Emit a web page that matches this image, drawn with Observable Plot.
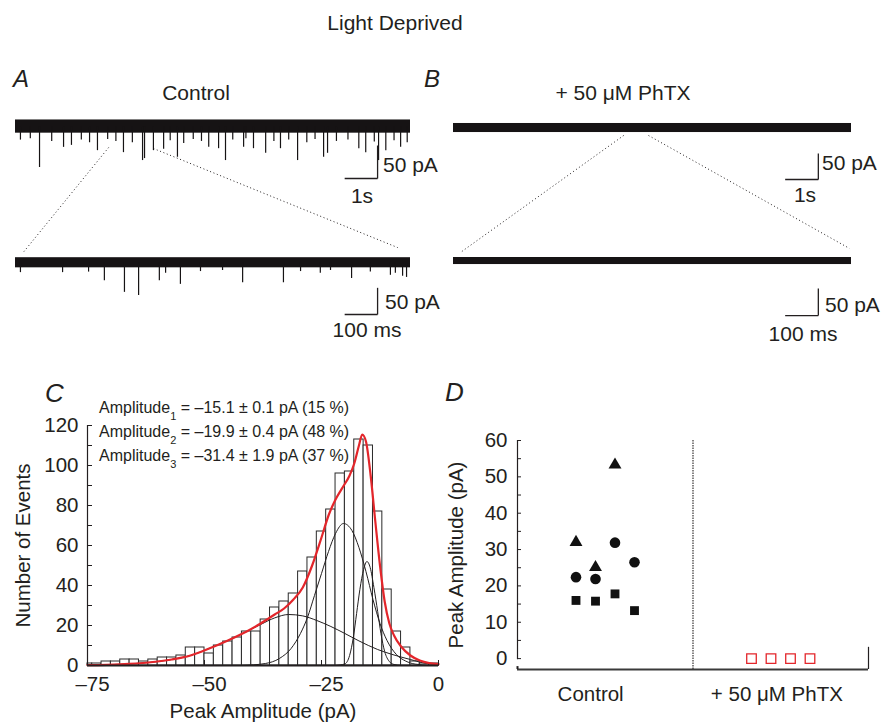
<!DOCTYPE html>
<html><head><meta charset="utf-8">
<script src="https://cdn.jsdelivr.net/npm/d3@7"></script>
<script src="https://cdn.jsdelivr.net/npm/@observablehq/plot@0.6"></script>
<style>
html,body{margin:0;padding:0;background:#fff;}
#fig{position:relative;width:889px;height:722px;overflow:hidden;font-family:"Liberation Sans",Arial,Helvetica,sans-serif;color:#231f20;background:#fff;}
.lbl{position:absolute;white-space:nowrap;line-height:1;}
</style></head>
<body><div id="fig"></div>
<script>
// ---------------- DATA ----------------
// Panel A/B traces: recording lengths
const traceDurationS = 12;          // top traces, seconds
const zoomDurationMs = 1200;        // expanded traces, ms
const scaleBarTimeS = 1, scaleBarTimeMs = 100, scaleBarCurrentPA = 50;
// noise band of each trace [low, high] pA
const noiseATop = [-9.5, 10.5];
const noiseABot = [-10, 9];
const noiseBTop = [-8.7, 8.7];
const noiseBBot = [-6.5, 6.5];
// miniature events in control trace, top: [time s, peak pA]
const spikesATop = [[0.73,-61.5],[1.46,-31],[1.70,-28],[2.49,-36],[3.28,-39],[3.86,-51],[3.92,-48],[4.19,-36],[4.50,-34],[4.92,-46],[5.11,-25],[5.87,-31],[6.17,-33],[6.38,-51],[6.93,-31],[7.23,-33],[7.60,-40],[8.05,-33],[8.57,-51],[9.36,-46],[9.48,-40],[10.43,-33],[10.64,-39],[11.03,-51],[11.25,-36],[11.70,-31],
  [0.15,-20],[0.45,-18],[1.1,-22],[2.0,-20],[2.25,-24],[2.8,-19],[3.05,-22],[3.55,-24],[4.7,-21],[5.4,-19],[5.65,-22],[6.6,-20],[7.0,-18],[7.85,-22],[8.3,-20],[8.85,-24],[9.1,-19],[9.75,-22],[10.1,-20],[10.9,-23],[11.5,-21],[11.9,-24]];
// expanded control trace: [time ms, peak pA]
const spikesABot = [[15,-19],[143,-19],[222,-18],[270,-34],[331,-56],[374,-62],[437,-34],[456,-20],[501,-41],[562,-17],[629,-15],[690,-38],[814,-38],[866,-17],[926,-20],[957,-15],[1021,-30],[1078,-18],[1139,-24],[1154,-20],[1176,-26],[1188,-28]];

// Panel C histogram (2 pA bins)
const histBinStart = [-76,-74,-72,-70,-68,-66,-64,-62,-60,-58,-56,-54,-52,-50,-48,-46,-44,-42,-40,-38,-36,-34,-32,-30,-28,-26,-24,-22,-20,-18,-16,-14,-12,-10,-8,-6,-4,-2];
const histCount    = [1,1,2,2,3,3,2,3,4,4,5,9,9,6,10,12,14,17,17,23,29,32,36,47,54,67,78,96,97,113,110,77,38,17,9,2,1,1];
const histBinWidth = 2;
// fitted curves: [pA, events]
const fitSum = [[-75,0.2],[-68,0.6],[-62,1.5],[-57,3],[-53,5],[-49,8.5],[-45,12.5],[-41,17],[-38,21],[-35,25.5],[-33,28.5],[-31,33],[-29,39],[-27,50],[-25,64],[-23.5,75],[-22,83],[-20.5,89],[-19,95],[-18,101],[-17,110],[-16.3,115.5],[-15.5,112],[-14.5,95],[-13.5,72],[-12.5,50],[-11.5,32],[-10.5,21],[-9.5,15],[-8,9.5],[-6,5],[-4,2.5],[-2,1.2],[0,0.7]];
const fitComp1 = [[-22,0],[-20,0.8],[-19,5],[-18.2,14],[-17.5,26],[-16.8,38],[-16,48],[-15.3,52],[-14.6,49],[-13.8,39],[-13,27],[-12.3,16],[-11.5,7],[-10.5,2],[-9.5,0.5],[-8,0]];
const fitComp2 = [[-42,0],[-37,1],[-34,3.5],[-31.5,8.5],[-29.5,16],[-28,24],[-26.5,35],[-25,46],[-23.5,57],[-22,66],[-20.3,71],[-18.5,67.5],[-17,59],[-15.5,47],[-14,33],[-12.5,21],[-11,12.5],[-9,5.5],[-7,2.2],[-5,0.7],[-2,0.1],[0,0]];
const fitComp3 = [[-75,0.2],[-68,0.6],[-62,1.5],[-57,3],[-53,5],[-49,8.5],[-45,12.5],[-41,17],[-38,20.5],[-35,23.8],[-32,25.5],[-29,24.8],[-26,22.5],[-23,19.5],[-20,16],[-17,12.3],[-13,8],[-10,5.6],[-6,3],[-2.5,1.0],[0,0.5]];
const ampMean = [-15.1, -19.9, -31.4];
const ampSem  = [0.1, 0.4, 1.9];
const ampPct  = [15, 48, 37];
const cTicksY = [0,10,20,30,40,50,60,70,80,90,100,110,120];
const cTicksX = [-75,-50,-25,0];

// Panel D scatter
const categoryNames = ["Control", "+ 50 \u03bcM PhTX"];
const categoryPos   = [3.75, 13.3];
const controlSlot  = [3,4,5, 3,4,5,6, 3,4,5,6];
const controlShape = ["triangle","triangle","triangle","circle","circle","circle","circle","square","square","square","square"];
const controlValue = [32, 25.1, 53.3, 22.4, 21.9, 31.9, 26.5, 16.0, 15.8, 17.8, 13.2];
const phtxSlot  = [12,13,14,15];
const phtxValue = [0,0,0,0];
const dTicksY = [0,5,10,15,20,25,30,35,40,45,50,55,60];

// ---------------- HELPERS ----------------
const FONT = '"Liberation Sans", Arial, Helvetica, sans-serif';
const INK = "#231f20";
const RED = "#e3262b";
const fig = document.getElementById("fig");
const baseStyle = {background: "transparent", fontFamily: FONT, color: INK, overflow: "visible"};

function place(node, left, top) {
  node.style.position = "absolute";
  node.style.left = left + "px";
  node.style.top = top + "px";
  fig.appendChild(node);
}
function label(html, x, baseline, size, opts = {}) {
  const el = document.createElement("div");
  el.className = "lbl";
  el.innerHTML = html;
  el.style.fontSize = size + "px";
  el.style.left = x + "px";
  el.style.top = (baseline - 0.8465 * size) + "px";
  if (opts.italic) el.style.fontStyle = "italic";
  if (opts.anchor === "middle") el.style.transform = "translateX(-50%)";
  fig.appendChild(el);
}
const dash = d => d < 0 ? "\u2013" + (-d) : String(d);

// trace panel builder: views map each trace's own units into panel units
function tracePanel({left, width, mL, mR, yDomain, views, links, bars}) {
  const bands = views.map(v => ({x1: v.tx(0), x2: v.tx(v.dur), y1: v.ty(v.noise[0]), y2: v.ty(v.noise[1])}));
  const spikes = views.flatMap(v => v.spikes.map(([t, p]) => ({x: v.tx(t), y1: v.ty(0), y2: v.ty(p)})));
  const barSegs = bars.flatMap(b => [
    {x1: b.view.tx(b.t), x2: b.view.tx(b.t), y1: b.view.ty(b.p), y2: b.view.ty(b.p - scaleBarCurrentPA)},
    {x1: b.view.tx(b.t - b.len), x2: b.view.tx(b.t), y1: b.view.ty(b.p - scaleBarCurrentPA), y2: b.view.ty(b.p - scaleBarCurrentPA)}
  ]);
  const p = Plot.plot({
    width, height: 250, marginLeft: mL, marginRight: mR, marginTop: 0, marginBottom: 0,
    x: {domain: [0, traceDurationS], axis: null},
    y: {domain: yDomain, axis: null},
    style: baseStyle,
    marks: [
      Plot.link(links, {x1: "x1", y1: "y1", x2: "x2", y2: "y2", stroke: INK, strokeWidth: 1, strokeDasharray: "1,2.6"}),
      Plot.rect(bands, {x1: "x1", x2: "x2", y1: "y1", y2: "y2", fill: "#161314"}),
      Plot.ruleX(spikes, {x: "x", y1: "y1", y2: "y2", stroke: "#161314", strokeWidth: 1.2}),
      Plot.link(barSegs, {x1: "x1", y1: "y1", x2: "x2", y2: "y2", stroke: INK, strokeWidth: 1.3})
    ]
  });
  place(p, left, 100);
}

// ---------------- PANEL A ----------------
{
  const top = {tx: t => t, ty: p => p, dur: traceDurationS, noise: noiseATop, spikes: spikesATop};
  const bot = {tx: ms => ms / 100, ty: p => -205.45 + 0.808 * p, dur: zoomDurationMs, noise: noiseABot, spikes: spikesABot};
  tracePanel({
    left: 0, width: 445, mL: 15, mR: 35, yDomain: [40 - 250 / 0.66, 40],
    views: [top, bot],
    links: [
      {x1: 2.83, y1: -31.2, x2: bot.tx(21), y2: bot.ty(17)},
      {x1: 4.19, y1: -32.7, x2: bot.tx(1161), y2: bot.ty(28)}
    ],
    bars: [
      {view: top, t: 11.0, p: -28.2, len: scaleBarTimeS},
      {view: bot, t: 1100, p: -47.5, len: scaleBarTimeMs}
    ]
  });
}
// ---------------- PANEL B ----------------
{
  const top = {tx: t => t, ty: p => p, dur: traceDurationS, noise: noiseBTop, spikes: []};
  const bot = {tx: ms => ms / 100, ty: p => -255.8 + 1.04 * p, dur: zoomDurationMs, noise: noiseBBot, spikes: []};
  tracePanel({
    left: 445, width: 444, mL: 8, mR: 38, yDomain: [52.9 - 250 / 0.52, 52.9],
    views: [top, bot],
    links: [
      {x1: 5.13, y1: -14.4, x2: bot.tx(21), y2: bot.ty(15.8)},
      {x1: 5.88, y1: -14.4, x2: bot.tx(1194), y2: bot.ty(23.2)}
    ],
    bars: [
      {view: top, t: 11.0, p: -49, len: scaleBarTimeS},
      {view: bot, t: 1100, p: -50.9, len: scaleBarTimeMs}
    ]
  });
}

// ---------------- PANEL C ----------------
{
  const bins = histBinStart.map((s, i) => ({x1: Math.max(s, cTicksX[0]), x2: s + histBinWidth, count: histCount[i]}));
  const toXY = a => a.map(([x, y]) => ({x, y}));
  const p = Plot.plot({
    width: 450, height: 352, marginLeft: 87, marginRight: 12, marginTop: 55, marginBottom: 57,
    x: {domain: [cTicksX[0], 0]},
    y: {domain: [0, 120]},
    style: {...baseStyle, fontSize: "20.5px"},
    marks: [
      Plot.rect(bins, {x1: "x1", x2: "x2", y1: 0, y2: "count", fill: "white", stroke: "#2a2a2a", strokeWidth: 1}),
      Plot.line(toXY(fitComp3), {x: "x", y: "y", curve: "monotone-x", stroke: INK, strokeWidth: 1}),
      Plot.line(toXY(fitComp2), {x: "x", y: "y", curve: "monotone-x", stroke: INK, strokeWidth: 1}),
      Plot.line(toXY(fitComp1), {x: "x", y: "y", curve: "monotone-x", stroke: INK, strokeWidth: 1}),
      Plot.line(toXY(fitSum), {x: "x", y: "y", curve: "monotone-x", stroke: RED, strokeWidth: 2.2}),
      Plot.ruleX([cTicksX[0]], {y1: 0, y2: 120, stroke: INK, strokeWidth: 1.2}),
      Plot.ruleY([0], {stroke: INK, strokeWidth: 2}),
      Plot.axisY({ticks: cTicksY, tickSize: -5, tickPadding: 14, tickFormat: d => d % 20 ? "" : String(d),
        label: "Number of Events", labelAnchor: "center", labelOffset: 72, labelArrow: "none"}),
      // tick marks + axis title
      Plot.axisX({ticks: cTicksX, tickSize: -5, tickFormat: () => "",
        label: "Peak Amplitude (pA)", labelAnchor: "center", labelOffset: 52, labelArrow: "none"}),
      // tick labels (negative labels sit a little right, as in the original)
      Plot.axisX({ticks: cTicksX.filter(d => d < 0), tickSize: 0, tickPadding: 11, dx: 5, tickFormat: dash, label: null}),
      Plot.axisX({ticks: cTicksX.filter(d => d >= 0), tickSize: 0, tickPadding: 11, tickFormat: dash, label: null})
    ]
  });
  place(p, 0, 370);
}

// ---------------- PANEL D ----------------
{
  const control = controlSlot.map((s, i) => ({slot: s, value: controlValue[i], shape: controlShape[i]}));
  const phtx = phtxSlot.map((s, i) => ({slot: s, value: phtxValue[i]}));
  const p = Plot.plot({
    width: 449, height: 352, marginLeft: 77, marginRight: 21, marginTop: 70, marginBottom: 53,
    x: {domain: [0, 18]},
    y: {domain: [-3, 60]},
    style: {...baseStyle, fontSize: "20.5px"},
    marks: [
      Plot.ruleY([-3], {x1: 0, x2: 18, stroke: "#3a3a3a", strokeWidth: 2}),
      Plot.ruleX([0], {y1: -0.3, y2: 60, stroke: INK, strokeWidth: 1.2}),
      Plot.ruleX([0], {y1: -3, y2: -2.2, stroke: INK, strokeWidth: 2}),
      Plot.ruleX([9], {y1: -3, y2: 60, stroke: INK, strokeWidth: 1.1, strokeDasharray: "1.5,1"}),
      Plot.ruleX([18], {y1: -3, y2: 3.1, stroke: INK, strokeWidth: 1.2}),
      Plot.axisY({ticks: dTicksY, tickSize: -4, tickPadding: 14, tickFormat: d => d % 10 ? "" : String(d),
        label: "Peak Amplitude (pA)", labelAnchor: "center", labelOffset: 69, labelArrow: "none"}),
      Plot.axisX({ticks: categoryPos, tickSize: 0, tickPadding: 17, tickFormat: d => categoryNames[categoryPos.indexOf(d)], label: null}),
      Plot.dot(control, {filter: d => d.shape === "triangle", x: "slot", y: "value", symbol: "triangle", r: 4.8, fill: "#111", stroke: "none"}),
      Plot.dot(control, {filter: d => d.shape === "circle", x: "slot", y: "value", symbol: "circle", r: 5.3, fill: "#111", stroke: "none"}),
      Plot.dot(control, {filter: d => d.shape === "square", x: "slot", y: "value", symbol: "square", r: 5, fill: "#111", stroke: "none"}),
      Plot.dot(phtx, {x: "slot", y: "value", symbol: "square", r: 5.4, fill: "white", stroke: RED, strokeWidth: 1.3})
    ]
  });
  place(p, 440, 370);
}

// ---------------- TEXT ----------------
label("Light Deprived", 395, 29.5, 21, {anchor: "middle"});
label("A", 13, 87, 24, {italic: true});
label("B", 424, 87, 24, {italic: true});
label("Control", 196, 100, 21, {anchor: "middle"});
label("+ 50 \u03bcM PhTX", 623, 100, 21, {anchor: "middle"});
label("50 pA", 383, 171.7, 21);
label("1s", 362, 203, 21, {anchor: "middle"});
label("50 pA", 385, 309, 21);
label("100 ms", 367, 336.7, 21, {anchor: "middle"});
label("50 pA", 822, 170, 21);
label("1s", 805, 201.7, 21, {anchor: "middle"});
label("50 pA", 825, 311.7, 21);
label("100 ms", 803, 341, 21, {anchor: "middle"});
label("C", 45, 402, 26, {italic: true});
label("D", 445, 401, 26, {italic: true});
[413.5, 437.5, 461.5].forEach((b, i) => {
  label(`Amplitude<span style="font-size:11px;position:relative;top:7px">${i + 1}</span> = ${dash(ampMean[i])} \u00b1 ${ampSem[i]} pA (${ampPct[i]} %)`, 99, b, 16);
});
</script>
</body></html>
